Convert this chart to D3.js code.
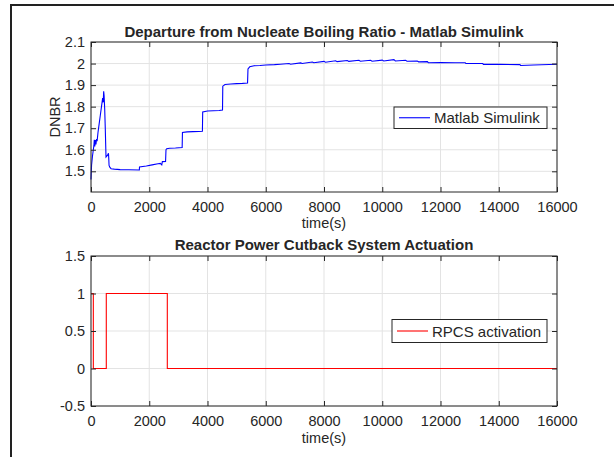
<!DOCTYPE html>
<html>
<head>
<meta charset="utf-8">
<script src="https://cdn.jsdelivr.net/npm/d3@7"></script>
<style>
  body { margin: 0; background: #fff; }
  text { font-family: "Liberation Sans", Arial, Helvetica, sans-serif; fill: #262626; }
</style>
</head>
<body>
<div id="chart"></div>
<script>
// DNBR time series (s, ratio)
const dnbrTime = [0, 20, 50, 80, 100, 113, 130, 150, 170, 190, 210, 240, 280, 320, 360, 400, 420, 435, 450, 470,
  490, 505, 515, 540, 570, 600, 610, 620, 650, 690, 800, 1000, 1300, 1660, 1665, 1900, 2100, 2300, 2380, 2430,
  2450, 2560, 2575, 2600, 2700, 2900, 3130, 3140, 3300, 3500, 3700, 3825, 3835, 4000, 4200, 4400, 4515, 4525,
  4600, 4800, 5000, 5200, 5375, 5390, 5450, 5600, 5800, 6000, 6300, 6500, 6800, 6850, 7200, 7250, 7600, 7650,
  8000, 8050, 8400, 8450, 8800, 8850, 9200, 9250, 9600, 9650, 10000, 10050, 10400, 10450, 10800, 10850, 11200,
  11250, 11550, 11580, 12000, 12500, 12850, 12870, 13450, 13470, 14000, 14730, 14750, 15200, 16000];
const dnbrValue = [1.462, 1.53, 1.57, 1.60, 1.62, 1.646, 1.615, 1.645, 1.625, 1.65, 1.64, 1.68, 1.72, 1.76, 1.80, 1.84, 1.82, 1.871, 1.85, 1.79,
  1.70, 1.62, 1.566, 1.57, 1.575, 1.584, 1.56, 1.527, 1.518, 1.512, 1.510, 1.508, 1.507, 1.506, 1.52, 1.525, 1.53, 1.535, 1.537, 1.53,
  1.545, 1.546, 1.60, 1.605, 1.607, 1.608, 1.61, 1.68, 1.683, 1.684, 1.685, 1.686, 1.775, 1.78, 1.781, 1.782, 1.784, 1.895,
  1.903, 1.905, 1.907, 1.908, 1.91, 1.975, 1.985, 1.99, 1.991, 1.993, 1.995, 1.997, 2.0, 1.997, 2.003, 2.0, 2.007, 2.004,
  2.01, 2.006, 2.013, 2.009, 2.014, 2.01, 2.015, 2.011, 2.015, 2.011, 2.016, 2.012, 2.018, 2.012, 2.015, 2.011, 2.012,
  2.008, 2.009, 2.004, 2.005, 2.004, 2.004, 2.0, 2.0, 1.996, 1.996, 1.995, 1.991, 1.993, 1.997];

// RPCS actuation signal (step changes)
const rpcsTime = [0, 80, 525, 2620, 16000];
const rpcsValue = [1, 0, 1, 0, 0];

const xTicks = [0, 2000, 4000, 6000, 8000, 10000, 12000, 14000, 16000];
const dnbrTicks = [1.5, 1.6, 1.7, 1.8, 1.9, 2, 2.1];
const rpcsTicks = [-0.5, 0, 0.5, 1, 1.5];

const W = 614, H = 457;
const svg = d3.select("#chart").append("svg")
  .attr("width", W).attr("height", H);
svg.append("rect").attr("width", W).attr("height", H).attr("fill", "#fff");

// figure frame (top and left edges only visible)
svg.append("path")
  .attr("d", "M11,457 L11,5 L614,5")
  .attr("fill", "none").attr("stroke", "#222").attr("stroke-width", 2);

// draw one MATLAB-style axes
const drawAxes = (cfg) => {
  const x = d3.scaleLinear().domain([0, 16000]).range([91, 557]);
  const y = d3.scaleLinear().domain(cfg.yDomain).range([cfg.bottom, cfg.top]);
  const g = svg.append("g");

  // grid
  g.selectAll(".vg").data(xTicks).join("line")
    .attr("x1", d => x(d)).attr("x2", d => x(d))
    .attr("y1", cfg.top).attr("y2", cfg.bottom)
    .attr("stroke", "#e3e3e3").attr("stroke-width", 1);
  g.selectAll(".hg").data(cfg.yTicks).join("line")
    .attr("x1", 91).attr("x2", 557)
    .attr("y1", d => y(d)).attr("y2", d => y(d))
    .attr("stroke", "#e3e3e3").attr("stroke-width", 1);

  // data line
  const pts = cfg.t.map((t, i) => [t, cfg.v[i]]);
  const line = d3.line().x(d => x(d[0])).y(d => y(d[1]));
  if (cfg.step) line.curve(d3.curveStepAfter);
  g.append("path").datum(pts)
    .attr("d", line)
    .attr("fill", "none").attr("stroke", cfg.color).attr("stroke-width", 1.1);

  // box
  g.append("rect").attr("x", 91).attr("y", cfg.top)
    .attr("width", 466).attr("height", cfg.bottom - cfg.top)
    .attr("fill", "none").attr("stroke", "#262626").attr("stroke-width", 1);

  // axes with inward ticks
  const plain = d => String(d);
  g.append("g").attr("transform", `translate(0,${cfg.bottom})`)
    .call(d3.axisBottom(x).tickValues(xTicks).tickSizeInner(-5).tickSizeOuter(0).tickPadding(10).tickFormat(plain))
    .call(a => a.select(".domain").remove());
  g.append("g").attr("transform", `translate(0,${cfg.top})`)
    .call(d3.axisTop(x).tickValues(xTicks).tickSizeInner(-5).tickSizeOuter(0).tickFormat(""))
    .call(a => a.select(".domain").remove());
  g.append("g").attr("transform", "translate(91,0)")
    .call(d3.axisLeft(y).tickValues(cfg.yTicks).tickSizeInner(-5).tickSizeOuter(0).tickPadding(6).tickFormat(plain))
    .call(a => a.select(".domain").remove());
  g.append("g").attr("transform", "translate(557,0)")
    .call(d3.axisRight(y).tickValues(cfg.yTicks).tickSizeInner(-5).tickSizeOuter(0).tickFormat(""))
    .call(a => a.select(".domain").remove());
  g.selectAll(".tick line").attr("stroke", "#262626");
  g.selectAll(".tick text").attr("font-size", 14.5).attr("fill", "#262626")
    .attr("font-family", "Liberation Sans, Arial, sans-serif");

  // titles
  g.append("text").attr("x", 324).attr("y", cfg.titleY)
    .attr("text-anchor", "middle").attr("font-size", 15).attr("font-weight", "bold")
    .attr("fill", "#000").text(cfg.title);
  g.append("text").attr("x", 324).attr("y", cfg.xlabelY)
    .attr("text-anchor", "middle").attr("font-size", 14.5).text("time(s)");
  if (cfg.ylabel) {
    g.append("text").attr("transform", `translate(60,${(cfg.top + cfg.bottom) / 2}) rotate(-90)`)
      .attr("text-anchor", "middle").attr("font-size", 14.5).text(cfg.ylabel);
  }

  // legend
  const lg = cfg.legend;
  g.append("rect").attr("x", lg.x).attr("y", lg.y).attr("width", lg.w).attr("height", lg.h)
    .attr("fill", "#fff").attr("stroke", "#262626").attr("stroke-width", 1);
  g.append("line").attr("x1", lg.x + 5).attr("x2", lg.x + 36)
    .attr("y1", lg.y + lg.h / 2).attr("y2", lg.y + lg.h / 2)
    .attr("stroke", cfg.color).attr("stroke-width", 1.1);
  g.append("text").attr("x", lg.x + 40).attr("y", lg.y + lg.h / 2 + 5.5)
    .attr("font-size", 15).attr("fill", "#000").text(lg.label);
};

drawAxes({
  t: dnbrTime, v: dnbrValue, color: "#0000ff", step: false,
  yDomain: [1.404, 2.1], yTicks: dnbrTicks, top: 42, bottom: 192,
  title: "Departure from Nucleate Boiling Ratio - Matlab Simulink", titleY: 37,
  xlabelY: 228, ylabel: "DNBR",
  legend: { x: 394, y: 107, w: 153, h: 21.5, label: "Matlab Simulink" }
});

drawAxes({
  t: rpcsTime, v: rpcsValue, color: "#ff0000", step: true,
  yDomain: [-0.5, 1.5], yTicks: rpcsTicks, top: 256, bottom: 406,
  title: "Reactor Power Cutback System Actuation", titleY: 250,
  xlabelY: 443, ylabel: null,
  legend: { x: 392, y: 319.5, w: 155, h: 23, label: "RPCS activation" }
});
</script>
</body>
</html>
